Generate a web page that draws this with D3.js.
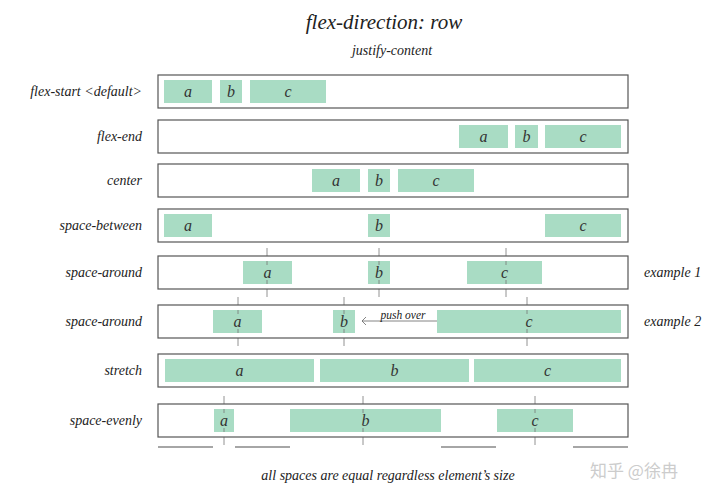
<!DOCTYPE html>
<html><head><meta charset="utf-8">
<script src="https://cdn.jsdelivr.net/npm/d3@7"></script>
<style>body{margin:0;background:#fff}svg{display:block}</style>
</head><body><svg id="c" width="720" height="502"></svg>
<script>
const rowLabels=["flex-start <default>","flex-end","center","space-between","space-around","space-around","stretch","space-evenly"];
const itemNames=["a","b","c"];
// item extents in container units (0..470)
const aItems=[[6,54],[301,350],[154,202],[6,54],[85,134],[55,104],[7,156],[56,76]];
const bItems=[[62,84],[357,380],[210,232],[210,232],[210,232],[175,197],[162,311],[132,283]];
const cItems=[[92,168],[387,463],[240,316],[387,463],[309,384],[279,463],[316,463],[339,415]];
const tickRows={4:[109,221,348],5:[80,186,369],7:[66,205,377]};
const gapLines=[[0,55],[77,132],[283,338],[415,470]];
const sideNotes={4:"example 1",5:"example 2"};
const rowTops=[75,120,164,209,256,305,354,404];

const svg=d3.select("#c");
const font="'Liberation Serif', 'DejaVu Serif', serif";
const x=d3.scaleLinear().domain([0,470]).range([158,628]);
const rowH=33;
svg.append("text").attr("x",384).attr("y",29).attr("text-anchor","middle").attr("font-family",font).attr("font-style","italic").attr("font-size",21).attr("fill","#222").text("flex-direction: row");
svg.append("text").attr("x",392).attr("y",55).attr("text-anchor","middle").attr("font-family",font).attr("font-style","italic").attr("font-size",14).attr("fill","#222").text("justify-content");

rowLabels.forEach((lab,i)=>{
  const y0=rowTops[i];
  const g=svg.append("g");
  if(tickRows[i]) tickRows[i].forEach(t=>{
    g.append("line").attr("x1",x(t)).attr("x2",x(t)).attr("y1",y0-8).attr("y2",y0+rowH+8).attr("stroke","#777").attr("stroke-width",0.8);
  });
  g.append("rect").attr("x",x(0)).attr("y",y0).attr("width",x(470)-x(0)).attr("height",rowH).attr("fill","#fff").attr("stroke","#555").attr("stroke-width",1.2);
  [aItems[i],bItems[i],cItems[i]].forEach((it,k)=>{
    g.append("rect").attr("x",x(it[0])).attr("y",y0+5).attr("width",x(it[1])-x(it[0])).attr("height",rowH-10).attr("fill","#a9dcc4");
    g.append("text").attr("x",(x(it[0])+x(it[1]))/2).attr("y",y0+rowH/2+5).attr("text-anchor","middle").attr("font-family",font).attr("font-style","italic").attr("font-size",16).attr("fill","#333").text(itemNames[k]);
  });
  if(tickRows[i]) tickRows[i].forEach(t=>{
    g.append("line").attr("x1",x(t)).attr("x2",x(t)).attr("y1",y0+5).attr("y2",y0+9).attr("stroke","#777").attr("stroke-width",0.8);
    g.append("line").attr("x1",x(t)).attr("x2",x(t)).attr("y1",y0+rowH-9).attr("y2",y0+rowH-5).attr("stroke","#777").attr("stroke-width",0.8);
  });
  svg.append("text").attr("x",142).attr("y",y0+rowH/2+4).attr("text-anchor","end").attr("font-family",font).attr("font-style","italic").attr("font-size",14).attr("fill","#222").text(lab);
  if(sideNotes[i]) svg.append("text").attr("x",644).attr("y",y0+rowH/2+4).attr("font-family",font).attr("font-style","italic").attr("font-size",14).attr("fill","#222").text(sideNotes[i]);
});
const r6=rowTops[5];
svg.append("line").attr("x1",x(279)).attr("x2",x(204)).attr("y1",r6+16).attr("y2",r6+16).attr("stroke","#666").attr("stroke-width",0.8);
svg.append("path").attr("d",`M${x(208)},${r6+12} L${x(204)},${r6+16} L${x(208)},${r6+20}`).attr("fill","none").attr("stroke","#666").attr("stroke-width",0.8);
svg.append("text").attr("x",x(245)).attr("y",r6+14).attr("text-anchor","middle").attr("font-family",font).attr("font-style","italic").attr("font-size",11.5).attr("fill","#222").text("push over");
gapLines.forEach(d=>svg.append("line").attr("x1",x(d[0])).attr("x2",x(d[1])).attr("y1",447).attr("y2",447).attr("stroke","#888").attr("stroke-width",1.5));
svg.append("text").attr("x",388).attr("y",480).attr("text-anchor","middle").attr("font-family",font).attr("font-style","italic").attr("font-size",14).attr("fill","#222").text("all spaces are equal regardless element’s size");
svg.append("text").attr("x",590).attr("y",477).attr("font-family","'Noto Sans CJK SC'").attr("font-size",17).attr("fill","#ccc").text("知乎 @徐冉");
</script></body></html>
